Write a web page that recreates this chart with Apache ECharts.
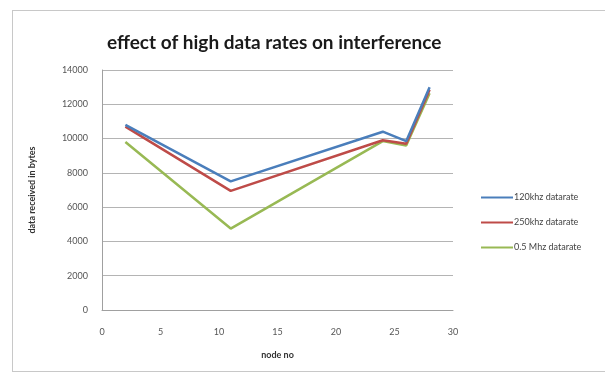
<!DOCTYPE html>
<html>
<head>
<meta charset="utf-8">
<script src="https://cdn.jsdelivr.net/npm/echarts@6/dist/echarts.min.js"></script>
<style>
  html, body { margin: 0; padding: 0; background: #ffffff; }
  #frame { position: absolute; left: 12px; top: 10px; width: 620px; height: 360px; border: 1px solid #c8c8c8; }
  #chart { position: absolute; left: 0; top: 0; width: 605px; height: 379px; }
</style>
</head>
<body>
<div id="frame"></div>
<div id="chart"></div>
<script>
// Node numbers on the x axis
const nodes = [2, 11, 24, 26, 28];
// Data received (bytes) per data rate
const rate120k = [10800, 7500, 10400, 9850, 13000];
const rate250k = [10700, 6950, 9900, 9700, 12850];
const rate05M = [9800, 4750, 9850, 9600, 12650];
const seriesNames = ['120khz datarate', '250khz datarate', '0.5 Mhz datarate'];
const seriesColors = ['#4a7ebb', '#be4b48', '#98b954'];

const pairs = (ys) => nodes.map((x, i) => [x, ys[i]]);
const values = [rate120k, rate250k, rate05M];
const FONT = 'Lato';

const chart = echarts.init(document.getElementById('chart'));
chart.setOption({
  animation: false,
  backgroundColor: 'transparent',
  title: {
    text: 'effect of high data rates on interference',
    left: 102,
    top: 28,
    textStyle: { fontFamily: FONT, fontSize: 19, fontWeight: 'bold', color: '#1a1a1a' }
  },
  legend: {
    orient: 'vertical',
    left: 476,
    top: 188,
    itemWidth: 32,
    itemHeight: 2,
    itemGap: 16,
    icon: 'rect',
    textStyle: { fontFamily: FONT, fontSize: 9, color: '#444', padding: [0, 0, 0, -4] },
    data: seriesNames
  },
  grid: { left: 102, right: 152, top: 70, bottom: 69 },
  xAxis: {
    type: 'value',
    min: 0, max: 30, interval: 5,
    name: 'node no',
    nameLocation: 'middle',
    nameGap: 41,
    nameTextStyle: { fontFamily: FONT, fontSize: 9, fontWeight: 'bold', color: '#333' },
    axisLine: { show: true, lineStyle: { color: '#a0a0a0', width: 1 } },
    axisTick: { show: false },
    axisLabel: { fontFamily: FONT, fontSize: 9, color: '#555', margin: 18 },
    splitLine: { show: false }
  },
  yAxis: {
    type: 'value',
    min: 0, max: 14000, interval: 2000,
    name: 'data received in bytes',
    nameLocation: 'middle',
    nameRotate: 90,
    nameGap: 65,
    nameTextStyle: { fontFamily: FONT, fontSize: 9, fontWeight: 'bold', color: '#333' },
    axisLine: { show: true, lineStyle: { color: '#a0a0a0', width: 1 } },
    axisTick: { show: false },
    axisLabel: { fontFamily: FONT, fontSize: 9, color: '#555', margin: 14, formatter: (v) => String(v) },
    splitLine: { show: true, lineStyle: { color: '#b4b4b4', width: 1 } }
  },
  series: seriesNames.map((name, i) => ({
    name,
    type: 'line',
    data: pairs(values[i]),
    showSymbol: false,
    symbol: 'none',
    lineStyle: { color: seriesColors[i], width: 2.5 },
    itemStyle: { color: seriesColors[i] },
    z: 10 - i
  }))
});
</script>
</body>
</html>
